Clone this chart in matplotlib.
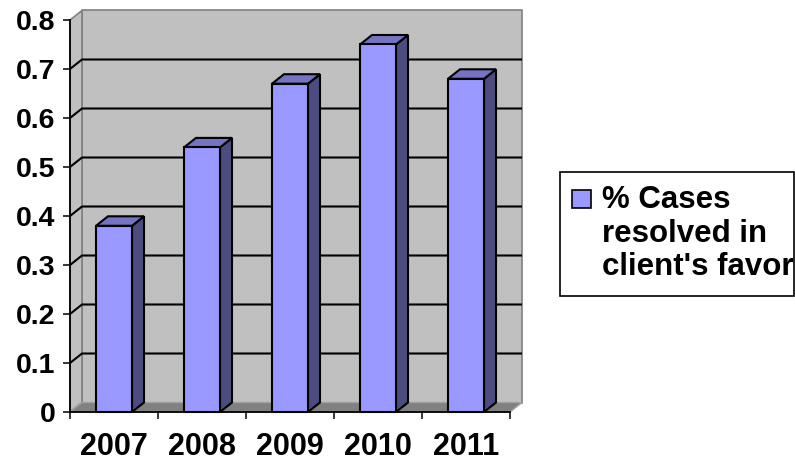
import numpy as np
import matplotlib.pyplot as plt
from matplotlib.patches import Polygon, Rectangle

# data
years = ["2007", "2008", "2009", "2010", "2011"]
cases_resolved = [0.38, 0.54, 0.67, 0.75, 0.68]
y_ticks = [0, 0.1, 0.2, 0.3, 0.4, 0.5, 0.6, 0.7, 0.8]
y_labels = ["0", "0.1", "0.2", "0.3", "0.4", "0.5", "0.6", "0.7", "0.8"]
legend_label = "% Cases\nresolved in\nclient's favor"

plt.rcParams['font.family'] = ['Liberation Sans', 'DejaVu Sans']
plt.rcParams['font.weight'] = 'bold'

W, H = 795, 461
fig = plt.figure(figsize=(W / 100, H / 100), dpi=100)
ax = fig.add_axes([70 / W, (H - 412) / H, 440 / W, 392 / H])

n = len(years)
ymax = y_ticks[-1]
ax.set_xlim(0, n)
ax.set_ylim(0, ymax)
ax.patch.set_visible(False)

# depth of the fake 3D box in data units (about 12 px right, 9.5 px up)
dx = 12 / 440 * n
dy = 9.5 / 392 * ymax

wall = '#C0C0C0'
edge = '#808080'

# back wall, left wall, floor
ax.add_patch(Rectangle((dx, dy), n, ymax, fc=wall, ec=edge, lw=1.2,
                       zorder=0, clip_on=False))
ax.add_patch(Polygon([(0, 0), (dx, dy), (dx, ymax + dy), (0, ymax)],
                     closed=True, fc=wall, ec=edge, lw=1.2, zorder=1, clip_on=False))
ax.add_patch(Polygon([(0, 0), (n, 0), (n + dx, dy), (dx, dy)],
                     closed=True, fc=edge, ec='#A0A0A0', lw=1.0, zorder=1, clip_on=False))

# gridlines across left and back walls
for v in y_ticks[1:-1]:
    ax.plot([0, dx, n + dx], [v, v + dy, v + dy], color='black', lw=1.5,
            zorder=2, clip_on=False, solid_capstyle='butt')

# bars: front face with bar(), side and top faces as polygons
x = np.arange(n) + 0.5
w = 36 / 88
ax.bar(x, cases_resolved, width=w, color='#9999FF', edgecolor='black',
       lw=1.5, zorder=5, clip_on=False)
for xi, v in zip(x, cases_resolved):
    x0, x1 = xi - w / 2, xi + w / 2
    ax.add_patch(Polygon([(x1, 0), (x1 + dx, dy), (x1 + dx, v + dy), (x1, v)],
                         closed=True, fc='#4C4C80', ec='black', lw=1.5,
                         zorder=4, clip_on=False, joinstyle='miter'))
    ax.add_patch(Polygon([(x0, v), (x1, v), (x1 + dx, v + dy), (x0 + dx, v + dy)],
                         closed=True, fc='#7474C2', ec='black', lw=1.5,
                         zorder=4, clip_on=False, joinstyle='miter'))

# axes lines and ticks
for side in ['top', 'right']:
    ax.spines[side].set_visible(False)
for side in ['left', 'bottom']:
    ax.spines[side].set_color('black')
    ax.spines[side].set_linewidth(1.3)
    ax.spines[side].set_zorder(6)

ax.set_yticks(y_ticks, y_labels)
ax.tick_params(axis='y', direction='out', length=5, width=1.1,
               labelsize=20.5, pad=5.5)
ax.set_xticks(np.arange(n + 1), [''] * (n + 1))
ax.set_xticks(x, years, minor=True)
ax.tick_params(axis='x', which='major', direction='out', length=5, width=1.1)
ax.tick_params(axis='x', which='minor', length=0, labelsize=22, pad=14.5)

# legend box drawn by hand so the swatch sits at the first line
fig.patches.append(Rectangle((560 / W, 1 - 296 / H), (794 - 560) / W, 124 / H,
                             transform=fig.transFigure, fc='white', ec='black',
                             lw=1.2))
fig.patches.append(Rectangle((572 / W, 1 - 208 / H), 19 / W, 18 / H,
                             transform=fig.transFigure, fc='#9999FF', ec='black',
                             lw=1.2))
fig.text(602 / W, 1 - 275 / H, legend_label, fontsize=22.5, fontweight='bold',
         va='baseline', ha='left', linespacing=1.15)

fig.savefig('out.png', dpi=100)
